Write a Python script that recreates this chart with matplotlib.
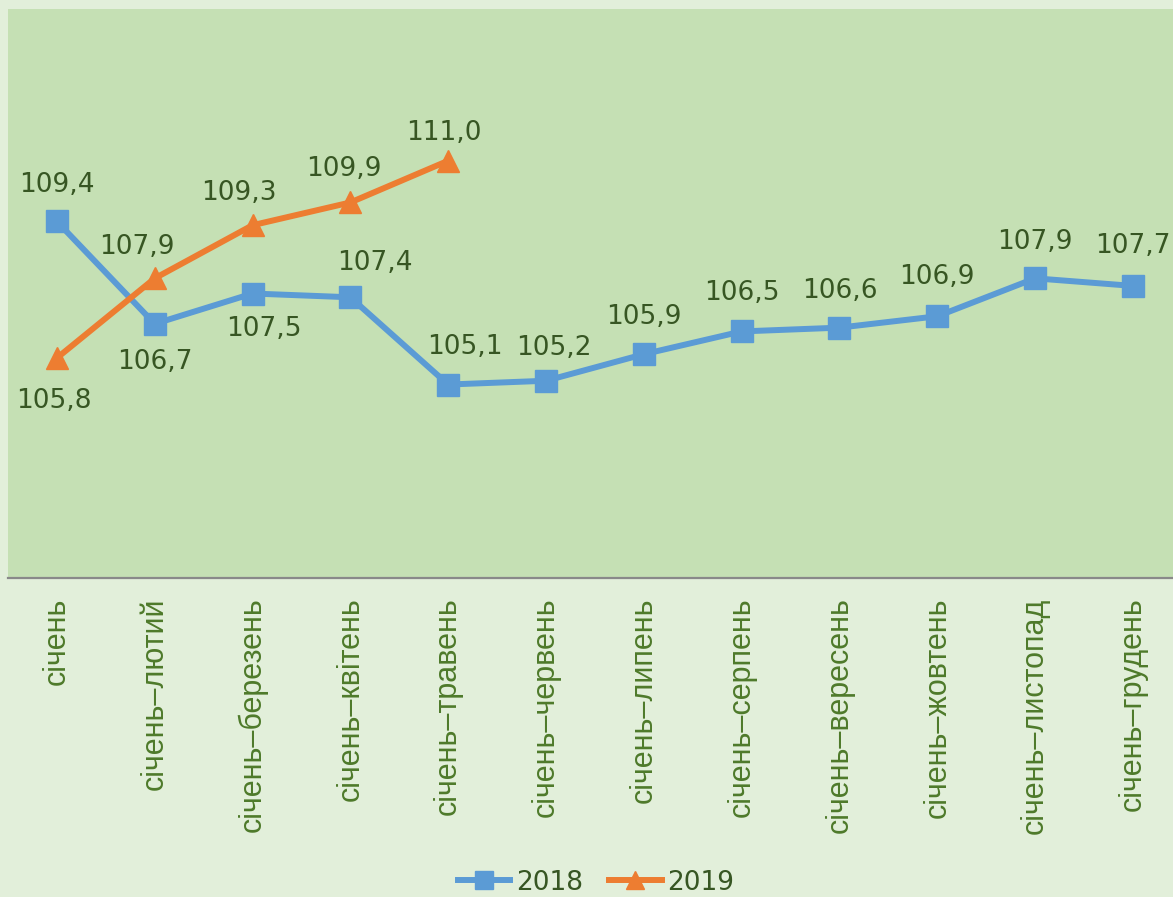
import matplotlib
matplotlib.use('Agg')
import matplotlib.pyplot as plt
import numpy as np

months = ['січень', 'січень–лютий', 'січень–березень', 'січень–квітень',
          'січень–травень', 'січень–червень', 'січень–липень', 'січень–серпень',
          'січень–вересень', 'січень–жовтень', 'січень–листопад', 'січень–грудень']
vals_2018 = [109.4, 106.7, 107.5, 107.4, 105.1, 105.2, 105.9, 106.5, 106.6, 106.9, 107.9, 107.7]
vals_2019 = [105.8, 107.9, 109.3, 109.9, 111.0]

# label offsets in pixels (dx, dy)
off_2018 = [(0, 36), (0, -38), (11, -35), (25, 34), (17, 38), (8, 33),
            (0, 37), (0, 38), (0, 37), (0, 39), (0, 36), (0, 40)]
off_2019 = [(-3, -43), (-18, 31), (-14, 32), (-6, 33), (-4, 28)]

blue = '#5b9bd5'
orange = '#ed7d31'
txt = '#375623'
tick_col = '#4e7a2a'

fig = plt.figure(figsize=(11.73, 8.97), dpi=100)
fig.patch.set_facecolor('#e2efda')
ax = fig.add_axes([8 / 1173, (897 - 578) / 897, 1 - 8 / 1173, (578 - 9) / 897])
ax.set_facecolor('#c5e0b4')

x = np.arange(len(months))
ax.plot(x, vals_2018, color=blue, lw=4.3, marker='s', ms=16, label='2018')
ax.plot(x[:len(vals_2019)], vals_2019, color=orange, lw=4.3, marker='^', ms=16, label='2019')

for xi, v, (dx, dy) in zip(x, vals_2018, off_2018):
    ax.annotate(f'{v:.1f}'.replace('.', ','), (xi, v), xytext=(dx, dy),
                textcoords='offset pixels', ha='center', va='center',
                fontsize=19, color=txt, family='DejaVu Sans')
for xi, v, (dx, dy) in zip(x, vals_2019, off_2019):
    ax.annotate(f'{v:.1f}'.replace('.', ','), (xi, v), xytext=(dx, dy),
                textcoords='offset pixels', ha='center', va='center',
                fontsize=19, color=txt, family='DejaVu Sans')

ax.set_ylim(100, 115)
ax.set_xlim(-0.5, 11.41)
ax.set_yticks([])
ax.set_xticks(x)
ax.set_xticklabels(months, rotation=90, fontsize=22, color=tick_col,
                   family='Liberation Sans')
ax.tick_params(axis='x', length=0, pad=14)
for s in ['top', 'left', 'right']:
    ax.spines[s].set_visible(False)
ax.spines['bottom'].set_color('#898989')
ax.spines['bottom'].set_linewidth(1.6)

leg = fig.legend(loc='center', bbox_to_anchor=(0.508, 0.016), ncol=2, frameon=False,
                 fontsize=19, handlelength=2.0, markerscale=0.8, columnspacing=1.0,
                 handletextpad=0.2)
for t in leg.get_texts():
    t.set_color(txt)

fig.savefig('out.png', dpi=100, facecolor=fig.get_facecolor())
